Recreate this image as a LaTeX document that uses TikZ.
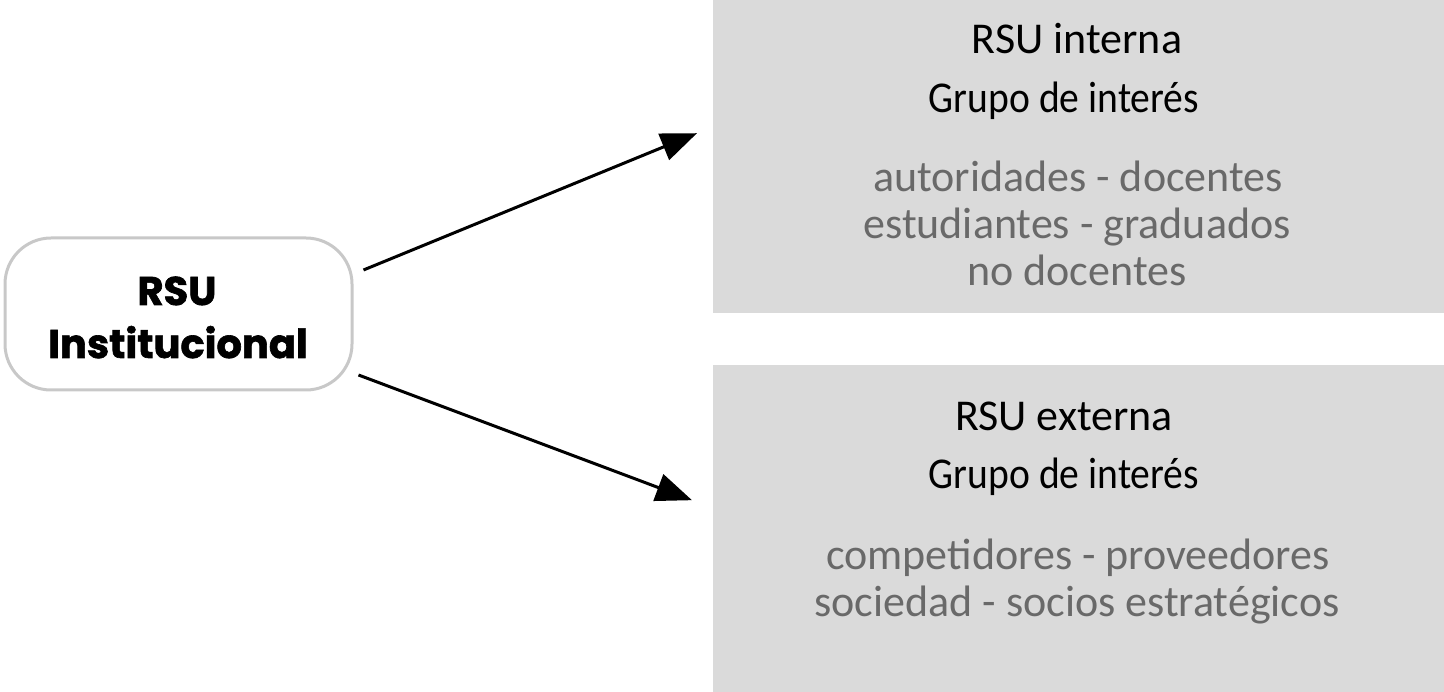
\documentclass[tikz,border=0pt]{standalone}
\usepackage{fontspec}
\usepackage{graphicx}
\usetikzlibrary{arrows.meta,calc}
\newfontfamily\headf[BoldFeatures={FakeBold=1.6}]{Poppins}
\newfontfamily\boxf{Carlito}
\definecolor{boxgray}{RGB}{218,218,218}
\definecolor{rimgray}{RGB}{200,200,200}
\definecolor{txtgray}{RGB}{105,105,105}
\newcommand{\narrowtxt}[1]{\scalebox{0.9}[1]{#1}}
\tikzset{
  panel/.style={fill=boxgray, draw=none, anchor=north west, inner sep=0pt},
  rsubox/.style={draw=rimgray, line width=3pt, rounded corners=46pt, fill=white, inner sep=0pt},
  headtxt/.style={font=\headf\bfseries\fontsize{40}{53}\selectfont, anchor=base, inner sep=0pt},
  titletxt/.style={font=\boxf\fontsize{44}{47}\selectfont, text=black, anchor=base, inner sep=0pt},
  listtxt/.style={font=\boxf\fontsize{44}{47}\selectfont, text=txtgray, anchor=base, inner sep=0pt},
  arr/.style={line width=3pt, -{Triangle[length=36pt,width=28pt]}}
}
\begin{document}
\begin{tikzpicture}[x=1pt,y=-1pt]
\useasboundingbox (0,0) rectangle (1444,692);
% panels
\node[panel, minimum width=731pt, minimum height=313pt] (top) at (713,0) {};
\node[panel, minimum width=731pt, minimum height=327pt] (bot) at (713,365) {};
% central node
\node[rsubox, minimum width=347pt, minimum height=152pt] (rsu) at (178.5,314) {};
\node[headtxt] (h1) at (177,305) {RSU};
\node[headtxt] (h2) at (178,358) {Institucional};
% top panel texts
\node[titletxt] (t1) at (1077,54) {RSU interna};
\node[titletxt] (t2) at (1064,113) {\narrowtxt{Grupo de interés}};
\node[listtxt] (t3) at (1078,192) {autoridades - docentes};
\node[listtxt] (t4) at (1077,239) {estudiantes - graduados};
\node[listtxt] (t5) at (1077,286) {no docentes};
% bottom panel texts
\node[titletxt] (b1) at (1064,431) {RSU externa};
\node[titletxt] (b2) at (1064,489) {\narrowtxt{Grupo de interés}};
\node[listtxt] (b3) at (1078,569) {competidores - proveedores};
\node[listtxt] (b4) at (1077,616) {sociedad - socios estratégicos};
% arrows
\draw[arr] ($(rsu.east)+(10,-44)$) -- ($(top.west)+(-16,-23.5)$);
\draw[arr] ($(rsu.east)+(5,61)$) -- ($(bot.west)+(-21,-28.5)$);
\end{tikzpicture}
\end{document}
